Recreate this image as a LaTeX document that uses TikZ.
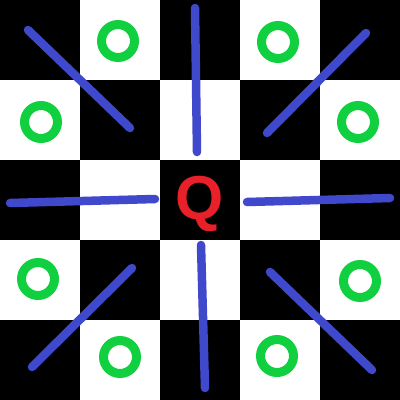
\documentclass[tikz,border=0pt]{standalone}
\usepackage{fontspec}
\setmainfont{Liberation Sans}
\usetikzlibrary{positioning}
\definecolor{rayc}{HTML}{4048CC}
\definecolor{ringc}{HTML}{10D040}
\definecolor{queenc}{HTML}{E8202A}
\tikzset{
  sq/.style={fill=black},
  ray/.style={draw=rayc, line width=8.5pt, line cap=round},
  ring/.style={draw=ringc, line width=9pt},
  queen/.style={text=queenc, font=\fontsize{62}{62}\selectfont\bfseries, inner sep=0pt},
}
\begin{document}
\begin{tikzpicture}[x=1pt, y=-1pt]
  \fill[white] (0,0) rectangle (400,400);
  \useasboundingbox (0,0) rectangle (400,400);
  % board
  \foreach \r in {0,...,4}
    \foreach \c in {0,...,4} {
      \pgfmathtruncatemacro{\odd}{mod(\r+\c,2)}
      \ifnum\odd=0 \fill[sq] (80*\c,80*\r) rectangle ++(80,80); \fi
    }
  % queen
  \node[queen, anchor=base] (q) at (200,219) {Q};
  % lines of attack
  \coordinate (tl0) at (28,30);   \coordinate (tl1) at (130,128);
  \coordinate (tr0) at (366,33);  \coordinate (tr1) at (267,133);
  \coordinate (bl0) at (132,268); \coordinate (bl1) at (32,367);
  \coordinate (br0) at (270,272); \coordinate (br1) at (372,370);
  \coordinate (up0) at (195,8);   \coordinate (up1) at (197,152);
  \coordinate (dn0) at (201,245); \coordinate (dn1) at (205,388);
  \coordinate (lf0) at (10,203);  \coordinate (lf1) at (155,199);
  \coordinate (rt0) at (247,202); \coordinate (rt1) at (390,198);
  \foreach \d in {tl,tr,bl,br,up,dn,lf,rt}
    \draw[ray] (\d0) -- (\d1);
  % knight squares
  \foreach \x/\y [count=\i] in {118/41, 41/122, 278/42, 358/122, 38/279, 360/281, 120/357, 277/356}
    \draw[ring] (\x,\y) circle (16.5);
\end{tikzpicture}
\end{document}
